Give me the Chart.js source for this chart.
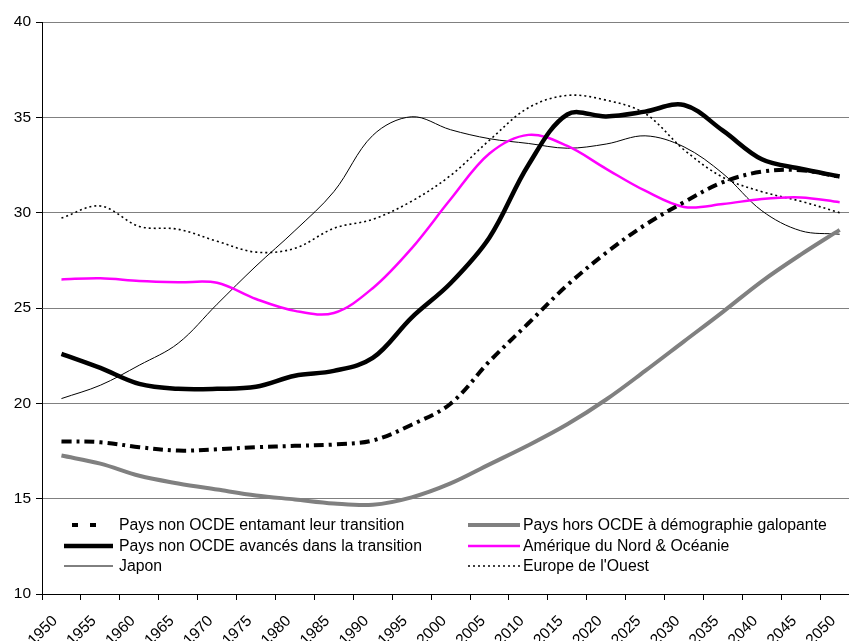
<!DOCTYPE html>
<html><head><meta charset="utf-8">
<script src="https://cdn.jsdelivr.net/npm/chart.js@4.4.1/dist/chart.umd.min.js"></script>
<style>html,body{margin:0;padding:0;background:#fff;overflow:hidden}</style>
</head><body>
<canvas id="c" width="849" height="641"></canvas>
<script>
// Mid-points of the five-year periods
const periods = [1952.5,1957.5,1962.5,1967.5,1972.5,1977.5,1982.5,1987.5,1992.5,1997.5,2002.5,2007.5,2012.5,2017.5,2022.5,2027.5,2032.5,2037.5,2042.5,2047.5,2052.5];
const tickYears = [1950,1955,1960,1965,1970,1975,1980,1985,1990,1995,2000,2005,2010,2015,2020,2025,2030,2035,2040,2045,2050];
const yTicks = [10,15,20,25,30,35,40];

const seriesNames = [
  "Pays non OCDE entamant leur transition",
  "Pays hors OCDE à démographie galopante",
  "Pays non OCDE avancés dans la transition",
  "Amérique du Nord & Océanie",
  "Japon",
  "Europe de l'Ouest"
];
const entamant  = [18.0,17.96,17.7,17.52,17.59,17.7,17.77,17.84,18.05,18.88,19.98,22.2,24.2,26.2,27.9,29.36,30.55,31.6,32.15,32.23,31.88];
const galopante = [17.26,16.84,16.2,15.8,15.48,15.17,14.96,14.75,14.68,15.07,15.8,16.8,17.8,18.9,20.2,21.7,23.25,24.8,26.4,27.8,29.1];
const avances   = [22.6,21.86,21.02,20.76,20.76,20.87,21.45,21.7,22.38,24.5,26.3,28.7,32.5,35.15,35.05,35.3,35.65,34.3,32.8,32.3,31.9];
const amerique  = [26.5,26.56,26.42,26.35,26.32,25.47,24.85,24.74,26.04,28.13,30.7,33.1,34.08,33.5,32.3,31.15,30.3,30.45,30.72,30.8,30.55];
const japon     = [20.25,20.95,22.0,23.15,25.2,27.2,29.06,31.1,34.05,35.03,34.35,33.88,33.63,33.38,33.6,34.03,33.45,32.05,30.1,29.05,28.87];
const europe    = [29.72,30.35,29.28,29.13,28.5,27.93,28.13,29.18,29.65,30.6,31.95,33.8,35.5,36.15,35.9,35.2,33.3,31.85,31.1,30.6,30.0];

const FONT = '"Liberation Sans", Arial, sans-serif';
const pts = arr => arr.map((v,i)=>({x:periods[i], y:v}));

const styles = [
  {borderColor:'#000000', borderWidth:4, borderDash:[10,5,3,5], legendDash:[6,12], legendDashOffset:-8, legendEnd:100},
  {borderColor:'#808080', borderWidth:4, borderDash:[]},
  {borderColor:'#000000', borderWidth:4.5, borderDash:[]},
  {borderColor:'#FF00FF', borderWidth:2.5, borderDash:[]},
  {borderColor:'#000000', borderWidth:1, borderDash:[]},
  {borderColor:'#000000', borderWidth:1.6, borderDash:[2,3]}
];
const values = [entamant, galopante, avances, amerique, japon, europe];

const datasets = values.map((arr,i)=>Object.assign({
  label: seriesNames[i],
  data: pts(arr),
  pointRadius: 0,
  tension: 0.35,
  fill: false
}, styles[i]));

const legendPlugin = {
  id: 'colLegend',
  afterDraw(chart){
    const ctx = chart.ctx;
    const cols = [{x0:64,x1:113,tx:119},{x0:468,x1:520,tx:523}];
    const rows = [525,546,566];
    ctx.save();
    ctx.font = '15.8px ' + FONT;
    ctx.textBaseline = 'middle';
    ctx.textAlign = 'left';
    chart.data.datasets.forEach((ds,i)=>{
      const c = cols[i%2], y = rows[Math.floor(i/2)];
      ctx.beginPath();
      ctx.strokeStyle = ds.borderColor;
      ctx.lineWidth = ds.borderWidth;
      ctx.setLineDash(ds.legendDash || ds.borderDash || []);
      ctx.lineDashOffset = ds.legendDashOffset || 0;
      ctx.moveTo(c.x0, y); ctx.lineTo(ds.legendEnd || c.x1, y);
      ctx.stroke();
      ctx.setLineDash([]);
      ctx.fillStyle = '#000';
      ctx.fillText(ds.label, c.tx, y+1);
    });
    ctx.restore();
  }
};

new Chart(document.getElementById('c'), {
  type: 'line',
  data: { datasets },
  options: {
    responsive: false,
    animation: false,
    events: [],
    layout: { padding: {top: 22, right: 0, bottom: 0, left: 0} },
    plugins: { legend: {display:false}, tooltip: {enabled:false} },
    scales: {
      x: {
        type: 'linear',
        min: 1950, max: 2053.7,
        afterBuildTicks: s => { s.ticks = tickYears.map(v=>({value:v})); },
        afterFit: s => { s.height = 47; },
        border: {display:true, color:'#000', width:1},
        grid: {display:true, drawOnChartArea:false, drawTicks:true, tickLength:6, tickColor:'#000', color:'#000'},
        ticks: {
          minRotation:45, maxRotation:45, padding:12, labelOffset:13,
          color:'#000', font:{family:FONT, size:15.5},
          callback: v => String(v)
        }
      },
      y: {
        min: 10, max: 40,
        afterBuildTicks: s => { s.ticks = yTicks.map(v=>({value:v})); },
        afterFit: s => { s.width = 42; },
        border: {display:true, color:'#000', width:1},
        grid: {
          color: c => (c.tick && c.tick.value === 10) ? 'rgba(0,0,0,0)' : '#808080',
          lineWidth: 1, drawTicks:true, tickLength:6, tickColor:'#000'
        },
        ticks: { padding:5, color:'#000', font:{family:FONT, size:15.5} }
      }
    }
  },
  plugins: [legendPlugin]
});
</script>
</body></html>
